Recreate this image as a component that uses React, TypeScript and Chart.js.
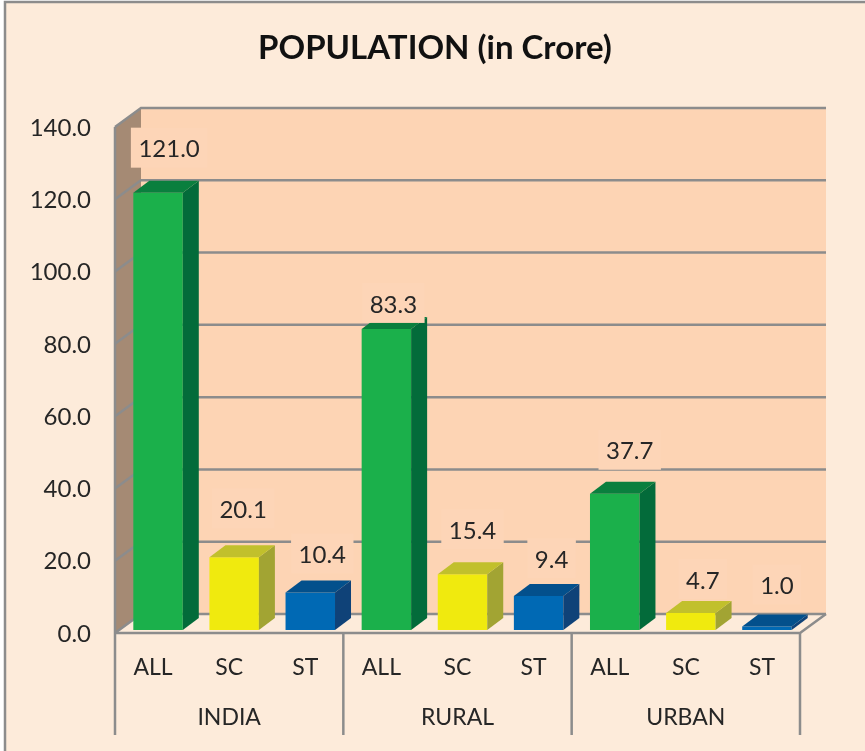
import React, { useEffect, useRef } from "react";
import { Chart, registerables } from "chart.js";

Chart.register(...registerables);

const TITLE = "POPULATION (in Crore)";
const categories = ["ALL", "SC", "ST", "ALL", "SC", "ST", "ALL", "SC", "ST"];
const groups = ["INDIA", "RURAL", "URBAN"];
const values = [121.0, 20.1, 10.4, 83.3, 15.4, 9.4, 37.7, 4.7, 1.0];
const yTickStep = 20;
const yMax = 140;

const FRONT = { ALL: "#1BB04B", SC: "#F0EA0E", ST: "#0069B4" };
const TOP = { ALL: "#0A7F3E", SC: "#C1C02C", ST: "#03508C" };
const SIDE = { ALL: "#036B3A", SC: "#A2A433", ST: "#0F4278" };

// hand-placed label offsets from each bar's centre / top, as in the reference
const labelNudgeX = [11, 9, 12, 7, 10, 13, 15, 12, 10];
const labelNudgeY = [-44, -48, -38, -25, -44, -37, -43, -33, -41];

const BG = "#FDEBDA";
const WALL = "#FDD4B4";
const SIDE_WALL = "#A58A74";
const LINE = "#8C8C8C";
const BOX = "#FDD5B7";
const TEXT = "#262626";
const FONT = "Lato";

const wallDX = 26;
const wallDY = -19;
const barDX = 16;
const barDY = -12;
const frontDX = -5; // axis plane sits in front of the bars
const frontDY = 3;
const axisBottom = 735;
const lineW = 2.5;

const scene = {
  id: "scene",
  beforeDraw(chart: any) {
    const { ctx, chartArea: a, scales } = chart;
    const y = scales.y;
    const fl = a.left + frontDX;
    const fr = a.right + frontDX;
    const ft = a.top + frontDY;
    const fb = a.bottom + frontDY;
    ctx.save();
    ctx.fillStyle = "#FFFFFF";
    ctx.fillRect(0, 0, chart.width, chart.height);
    ctx.fillStyle = BG;
    ctx.fillRect(5, 2, chart.width, chart.height);
    ctx.strokeStyle = LINE;
    ctx.lineWidth = lineW;
    ctx.beginPath();
    ctx.moveTo(5, chart.height);
    ctx.lineTo(5, 2);
    ctx.lineTo(chart.width, 2);
    ctx.stroke();

    // back wall
    ctx.fillStyle = WALL;
    ctx.fillRect(fl + wallDX, ft + wallDY, fr - fl, fb - ft);
    // side wall
    ctx.fillStyle = SIDE_WALL;
    ctx.beginPath();
    ctx.moveTo(fl, ft);
    ctx.lineTo(fl + wallDX, ft + wallDY);
    ctx.lineTo(fl + wallDX, fb + wallDY);
    ctx.lineTo(fl, fb);
    ctx.closePath();
    ctx.fill();
    // floor
    ctx.fillStyle = BG;
    ctx.beginPath();
    ctx.moveTo(fl, fb);
    ctx.lineTo(fl + wallDX, fb + wallDY);
    ctx.lineTo(fr + wallDX, fb + wallDY);
    ctx.lineTo(fr, fb);
    ctx.closePath();
    ctx.fill();

    // gridlines
    ctx.strokeStyle = LINE;
    ctx.lineWidth = lineW;
    for (const t of y.ticks) {
      const py = y.getPixelForValue(t.value) + frontDY;
      ctx.beginPath();
      ctx.moveTo(fl, py);
      ctx.lineTo(fl + wallDX, py + wallDY);
      ctx.lineTo(fr + wallDX, py + wallDY);
      ctx.stroke();
    }
    // floor front + right edge
    ctx.beginPath();
    ctx.moveTo(fl, fb);
    ctx.lineTo(fr, fb);
    ctx.lineTo(fr + wallDX, fb + wallDY);
    ctx.stroke();
    // left vertical axis and group separators
    ctx.beginPath();
    ctx.moveTo(fl, ft);
    ctx.lineTo(fl, axisBottom);
    const step = (fr - fl) / groups.length;
    for (let i = 1; i <= groups.length; i++) {
      ctx.moveTo(fl + step * i, fb);
      ctx.lineTo(fl + step * i, axisBottom);
    }
    ctx.stroke();
    ctx.restore();
  },
  afterDatasetsDraw(chart: any) {
    const { ctx } = chart;
    const bars = chart.getDatasetMeta(0).data;
    ctx.save();
    bars.forEach((b: any, i: number) => {
      const k = categories[i] as keyof typeof FRONT;
      const l = b.x - b.width / 2;
      const r = b.x + b.width / 2;
      ctx.fillStyle = SIDE[k];
      ctx.beginPath();
      ctx.moveTo(r, b.y);
      ctx.lineTo(r + barDX, b.y + barDY);
      ctx.lineTo(r + barDX, b.base + barDY);
      ctx.lineTo(r, b.base);
      ctx.closePath();
      ctx.fill();
      ctx.fillStyle = TOP[k];
      ctx.beginPath();
      ctx.moveTo(l, b.y);
      ctx.lineTo(l + barDX, b.y + barDY);
      ctx.lineTo(r + barDX, b.y + barDY);
      ctx.lineTo(r, b.y);
      ctx.closePath();
      ctx.fill();
    });
    ctx.font = `24px ${FONT}`;
    ctx.textAlign = "center";
    ctx.textBaseline = "middle";
    bars.forEach((b: any, i: number) => {
      const txt = values[i].toFixed(1);
      const cx = b.x + labelNudgeX[i];
      const cy = b.y + labelNudgeY[i];
      const w = ctx.measureText(txt).width + 15;
      ctx.fillStyle = BOX;
      ctx.fillRect(cx - w / 2, cy - 21, w, 40);
      ctx.fillStyle = TEXT;
      ctx.fillText(txt, cx, cy + 1);
    });
    ctx.restore();
  },
};

export default function App() {
  const ref = useRef<HTMLCanvasElement>(null);
  useEffect(() => {
    document.body.style.margin = "0";
    const chart = new Chart(ref.current!, {
      type: "bar",
      data: {
        labels: categories,
        datasets: [
          {
            data: values,
            backgroundColor: categories.map((c) => FRONT[c as keyof typeof FRONT]),
            borderWidth: 0,
            barPercentage: 0.65,
            categoryPercentage: 1,
          },
        ],
      },
      options: {
        responsive: false,
        animation: false,
        layout: { padding: { left: 5, right: 0, top: 0, bottom: 0 } },
        plugins: {
          legend: { display: false },
          tooltip: { enabled: false },
          title: {
            display: true,
            text: TITLE,
            color: "#111111",
            font: { family: FONT, size: 33, weight: "bold", lineHeight: 1.2 },
            padding: { top: 29, bottom: 55.4 },
          },
        },
        scales: {
          x: {
            weight: 0,
            grid: { display: false },
            border: { display: false },
            ticks: {
              color: TEXT,
              font: { family: FONT, size: 23 },
              padding: 16,
              labelOffset: -5,
              autoSkip: false,
              maxRotation: 0,
            },
            afterFit: (s: any) => {
              s.height = 56;
            },
          },
          x2: {
            type: "category",
            position: "bottom",
            weight: 1,
            labels: groups,
            offset: true,
            grid: { display: false },
            border: { display: false },
            ticks: {
              color: TEXT,
              font: { family: FONT, size: 23 },
              padding: 10,
              labelOffset: -5,
              autoSkip: false,
              maxRotation: 0,
            },
            afterFit: (s: any) => {
              s.height = 65;
            },
          },
          y: {
            min: 0,
            max: yMax,
            grid: { display: false },
            border: { display: false },
            ticks: {
              stepSize: yTickStep,
              color: TEXT,
              font: { family: FONT, size: 24 },
              padding: 21,
              labelOffset: 4,
              callback: (v: any) => Number(v).toFixed(1),
            },
            afterFit: (s: any) => {
              s.width = 115;
            },
          },
          yPad: {
            position: "right",
            min: 0,
            max: 1,
            grid: { display: false },
            border: { display: false },
            ticks: { display: false },
            afterFit: (s: any) => {
              s.width = 60;
            },
          },
        },
      } as any,
      plugins: [scene],
    });
    return () => chart.destroy();
  }, []);
  return <canvas ref={ref} width={865} height={751} style={{ display: "block" }} />;
}
